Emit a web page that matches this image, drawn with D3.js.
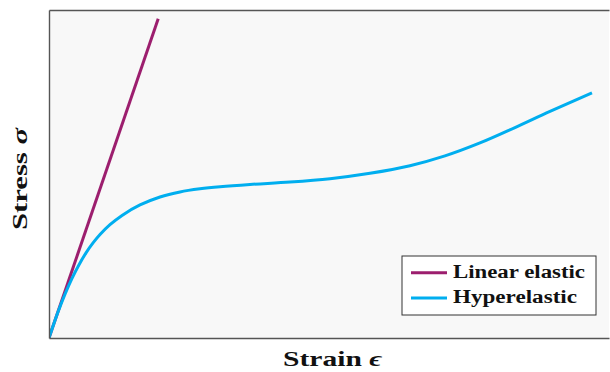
<!DOCTYPE html>
<html>
<head>
<meta charset="utf-8">
<script src="https://cdn.jsdelivr.net/npm/d3@7"></script>
<style>
  html, body { margin: 0; padding: 0; background: #fff; }
  svg { display: block; }
  .lbl { font-family: "Liberation Serif", "DejaVu Serif", serif; font-weight: bold; fill: #111; }
</style>
</head>
<body>
<svg id="chart" width="610" height="372"></svg>
<script>
// Series: strain (normalised) vs stress (normalised)
const hyperStrain = [0, 0.0161, 0.0286, 0.0411, 0.0536, 0.0661, 0.0786, 0.0911, 0.1089, 0.1304, 0.1625, 0.1982, 0.2339, 0.2696, 0.3054, 0.3589, 0.4304, 0.5018, 0.5732, 0.6446, 0.7071, 0.7696, 0.8321, 0.8946, 0.9696];
const hyperStress = [0, 0.0796, 0.1340, 0.1820, 0.2236, 0.2595, 0.2898, 0.3154, 0.3453, 0.3738, 0.4056, 0.4300, 0.4453, 0.4547, 0.4611, 0.4680, 0.4753, 0.4857, 0.5021, 0.5253, 0.5552, 0.5947, 0.6416, 0.6907, 0.7470];
const linearStrain = [0, 0.195];
const linearStress = [0, 0.973];

const seriesNames = ["Linear elastic", "Hyperelastic"];
const seriesColors = ["#9c1e6e", "#00aeef"];
const xLabel = "Strain ";
const xSymbol = "\u03F5";
const yLabel = "Stress ";
const ySymbol = "\u03C3";

const svg = d3.select("#chart");
const m = { left: 49, right: 609, top: 10, bottom: 338 };

const x = d3.scaleLinear().domain([0, 1]).range([m.left, m.right]);
const y = d3.scaleLinear().domain([0, 1]).range([m.bottom, m.top]);

// Plot area background
svg.append("rect")
  .attr("x", x(0)).attr("y", y(1))
  .attr("width", x(1) - x(0)).attr("height", y(0) - y(1))
  .attr("fill", "#f8f8f8");

svg.append("clipPath").attr("id", "plotclip")
  .append("rect")
  .attr("x", x(0)).attr("y", y(1))
  .attr("width", x(1) - x(0)).attr("height", y(0) - y(1));

const linearData = linearStrain.map((v, i) => [v, linearStress[i]]);
const hyperData = hyperStrain.map((v, i) => [v, hyperStress[i]]);

const plot = svg.append("g").attr("clip-path", "url(#plotclip)");
plot.append("path").datum(linearData)
  .attr("d", d3.line().x(d => x(d[0])).y(d => y(d[1])))
  .attr("fill", "none").attr("stroke", seriesColors[0]).attr("stroke-width", 3);
plot.append("path").datum(hyperData)
  .attr("d", d3.line().x(d => x(d[0])).y(d => y(d[1])).curve(d3.curveCatmullRom.alpha(0.5)))
  .attr("fill", "none").attr("stroke", seriesColors[1]).attr("stroke-width", 3);

// Frame: axes without ticks
const xAxis = d3.axisBottom(x).tickValues([]).tickSizeOuter(0);
const yAxis = d3.axisLeft(y).tickValues([]).tickSizeOuter(0);
const xTop = d3.axisTop(x).tickValues([]).tickSizeOuter(0);
[svg.append("g").attr("transform", `translate(0,${y(0)})`).call(xAxis),
 svg.append("g").attr("transform", `translate(${x(0)},0)`).call(yAxis),
 svg.append("g").attr("transform", `translate(0,${y(1)})`).call(xTop)]
  .forEach(g => g.select(".domain").attr("stroke", "#555").attr("stroke-width", 1.4));

// Axis titles
const xt = svg.append("text").attr("class", "lbl")
  .attr("x", 332.5).attr("y", 366)
  .attr("text-anchor", "middle").attr("font-size", 21)
  .attr("textLength", 99).attr("lengthAdjust", "spacingAndGlyphs");
xt.append("tspan").text(xLabel);
xt.append("tspan").attr("font-style", "italic").text(xSymbol);

const yt = svg.append("text").attr("class", "lbl")
  .attr("transform", "translate(27,179) rotate(-90)")
  .attr("text-anchor", "middle").attr("font-size", 21)
  .attr("textLength", 102).attr("lengthAdjust", "spacingAndGlyphs");
yt.append("tspan").text(yLabel);
yt.append("tspan").attr("font-style", "italic").text(ySymbol);

// Legend
const legendWidths = [132, 124];
const lg = svg.append("g").attr("transform", "translate(402,256)");
lg.append("rect").attr("width", 194).attr("height", 59)
  .attr("fill", "#fff").attr("stroke", "#333").attr("stroke-width", 1);
seriesNames.forEach((name, i) => {
  const yy = 16.7 + i * 25.3;
  lg.append("line").attr("x1", 9).attr("x2", 45).attr("y1", yy).attr("y2", yy)
    .attr("stroke", seriesColors[i]).attr("stroke-width", 3);
  lg.append("text").attr("class", "lbl").attr("x", 51).attr("y", yy + 5)
    .attr("font-size", 18)
    .attr("textLength", legendWidths[i]).attr("lengthAdjust", "spacingAndGlyphs")
    .text(name);
});
</script>
</body>
</html>
